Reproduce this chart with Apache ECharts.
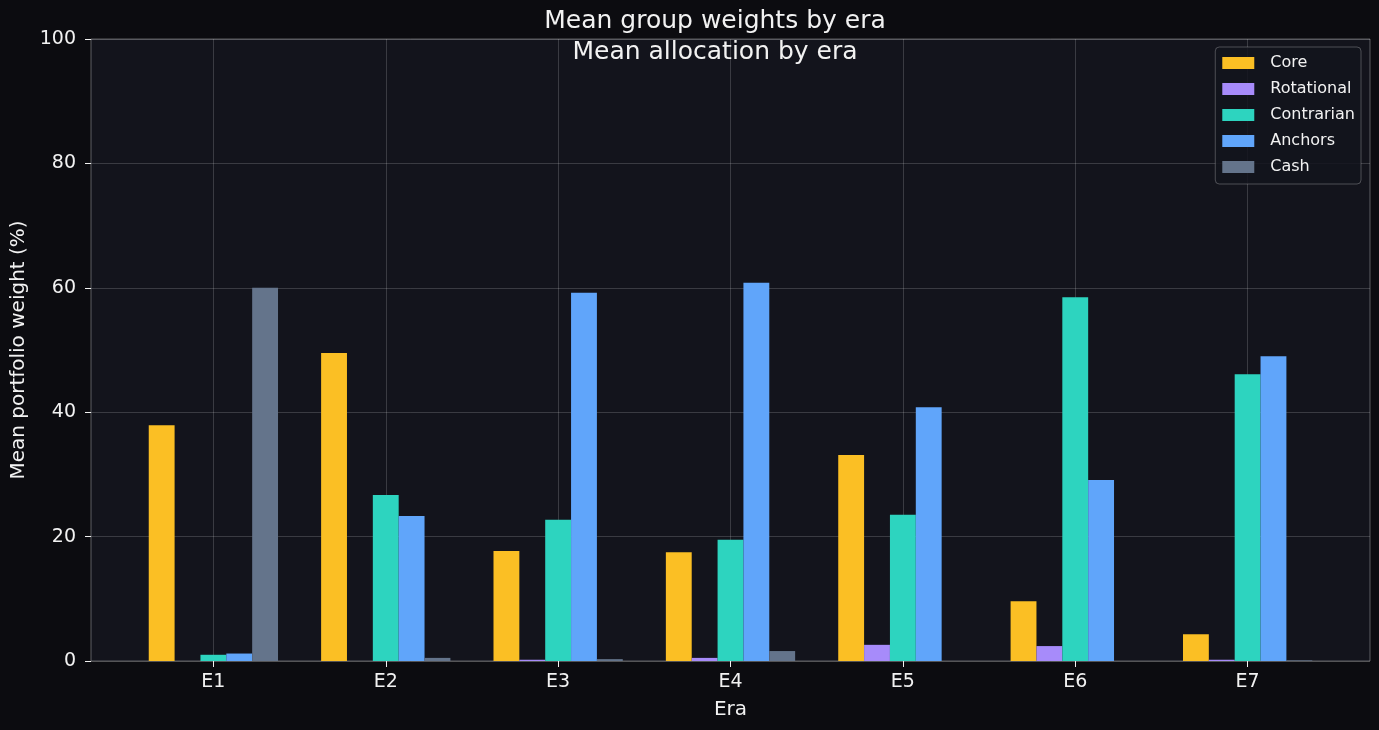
<!DOCTYPE html>
<html lang="en">
<head>
  <meta charset="UTF-8">
  <title>Mean group weights by era</title>
  <script src="https://cdn.jsdelivr.net/npm/echarts@6/dist/echarts.min.js"></script>
  <style>
    * { margin: 0; padding: 0; }
    body { background: #0c0c10; }
    #main { width: 1379px; height: 730px; }
  </style>
</head>
<body>
  <div id="main"></div>
  <script>
    // era labels and mean weights (%) per group
    var eras = ['E1', 'E2', 'E3', 'E4', 'E5', 'E6', 'E7'];
    var core = [37.9, 49.5, 17.7, 17.5, 33.1, 9.6, 4.3];
    var rotational = [0, 0, 0.2, 0.5, 2.6, 2.4, 0.2];
    var contrarian = [1.0, 26.7, 22.7, 19.5, 23.5, 58.5, 46.1];
    var anchors = [1.2, 23.3, 59.2, 60.8, 40.8, 29.1, 49.0];
    var cash = [60.0, 0.5, 0.3, 1.6, 0, 0, 0.1];
    var yTicks = [0, 20, 40, 60, 80, 100];

    var groups = [
      { name: 'Core', data: core, color: '#fbbf24' },
      { name: 'Rotational', data: rotational, color: '#a78bfa' },
      { name: 'Contrarian', data: contrarian, color: '#2dd4bf' },
      { name: 'Anchors', data: anchors, color: '#60a5fa' },
      { name: 'Cash', data: cash, color: '#64748b' }
    ];
    var eraIdx = eras.map(function (e, i) { return i; });

    var txt = '#f2f2f2';
    var font = 'DejaVu Sans';
    var gridLine = 'rgba(255,255,255,0.17)';

    var chart = echarts.init(document.getElementById('main'));
    chart.setOption({
      backgroundColor: '#0c0c10',
      textStyle: { fontFamily: font },
      title: [
        { text: 'Mean group weights by era', left: 710, top: 4, textAlign: 'center',
          textStyle: { color: txt, fontSize: 25, fontWeight: 'normal', fontFamily: font } },
        { text: 'Mean allocation by era', left: 710, top: 35, textAlign: 'center',
          textStyle: { color: txt, fontSize: 25, fontWeight: 'normal', fontFamily: font } }
      ],
      legend: {
        orient: 'vertical', right: 18, top: 47,
        itemWidth: 32, itemHeight: 12, itemGap: 10, icon: 'rect',
        padding: [8, 6, 9, 7],
        backgroundColor: 'rgba(19,20,28,0.85)',
        borderColor: 'rgba(255,255,255,0.25)', borderWidth: 1, borderRadius: 4,
        textStyle: { color: txt, fontSize: 16, fontFamily: font, padding: [0, 0, 0, 11] }
      },
      grid: {
        left: 91, right: 9, top: 39, bottom: 69,
        show: true, backgroundColor: '#13141c',
        borderColor: 'rgba(255,255,255,0.32)', borderWidth: 1
      },
      xAxis: {
        type: 'value', min: -0.71, max: 6.71,
        name: 'Era', nameLocation: 'middle', nameGap: 39,
        nameTextStyle: { color: txt, fontSize: 20 },
        axisLine: { show: false, onZero: false },
        axisTick: { show: true, length: 6, lineStyle: { color: txt }, customValues: eraIdx },
        axisLabel: { color: txt, fontSize: 19, margin: 12, customValues: eraIdx,
          formatter: function (v) { return eras[Math.round(v)]; } },
        splitLine: { show: true, lineStyle: { color: gridLine } }
      },
      yAxis: {
        type: 'value', min: 0, max: 100, interval: 20,
        name: 'Mean portfolio weight (%)', nameLocation: 'middle', nameGap: 62,
        nameTextStyle: { color: txt, fontSize: 20 },
        axisLine: { show: false, onZero: false },
        axisTick: { show: true, length: 6, lineStyle: { color: txt } },
        axisLabel: { color: txt, fontSize: 19, margin: 15 },
        splitLine: { show: true, lineStyle: { color: gridLine } }
      },
      series: groups.map(function (g) {
        return {
          name: g.name, type: 'bar',
          barWidth: '15%', barGap: '0%',
          itemStyle: { color: g.color },
          data: g.data.map(function (v, i) { return [i, v]; })
        };
      })
    });
  </script>
</body>
</html>
